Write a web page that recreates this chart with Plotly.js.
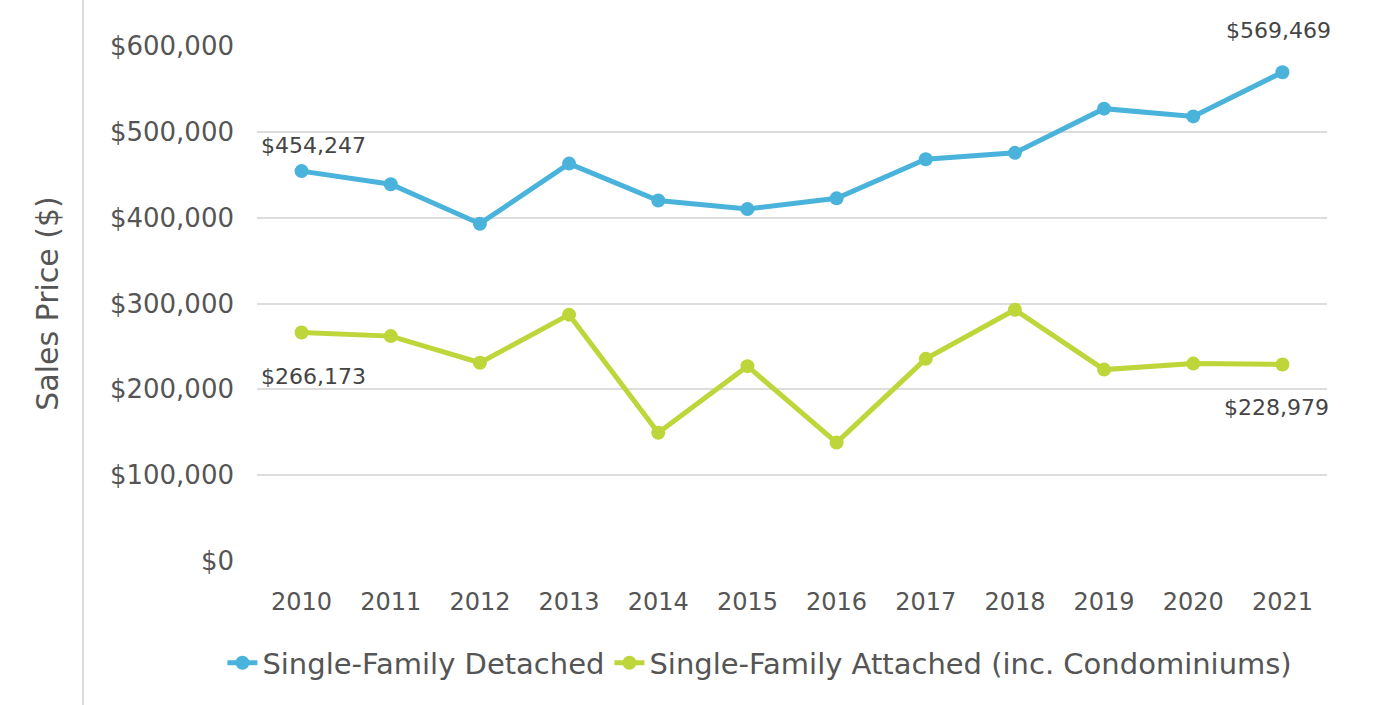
<!DOCTYPE html>
<html>
<head>
<meta charset="utf-8">
<script src="https://cdn.plot.ly/plotly-3.0.1.min.js"></script>
<style>html,body{margin:0;padding:0;background:#fff;}#chart{width:1389px;height:705px;}</style>
</head>
<body>
<div id="chart"></div>
<script>
const years = ['2010','2011','2012','2013','2014','2015','2016','2017','2018','2019','2020','2021'];
const detached = [454247, 439000, 393000, 463000, 420000, 410000, 422500, 468000, 475500, 527000, 518000, 569469];
const attached = [266173, 262000, 231000, 287000, 149500, 227000, 138000, 235500, 292700, 223000, 230000, 228979];
const seriesNames = ['Single-Family Detached', 'Single-Family Attached (inc. Condominiums)'];
const colors = ['#4AB3DC', '#BED63A'];

const fam = '"DejaVu Sans", sans-serif';
const grey = '#555555';

function fmt(v){
  const s = String(Math.round(v));
  return '$' + s.replace(/\B(?=(\d{3})+(?!\d))/g, ',');
}

const traces = [detached, attached].map((vals, i) => ({
  type: 'scatter', mode: 'lines+markers',
  x: years, y: vals, name: seriesNames[i],
  line: {color: colors[i], width: 5},
  marker: {color: colors[i], size: 14},
  cliponaxis: false
}));

const last = years.length - 1;
function ann(xi, yv, ys, xs){
  return {xref: 'x', yref: 'y', x: xi, y: yv, text: fmt(yv), showarrow: false,
    xshift: xs, yshift: ys, font: {family: fam, size: 22, color: '#444444'}};
}
const annotations = [
  ann(0, detached[0], 26, 12),
  ann(0, attached[0], -44, 12),
  ann(last, detached[last], 42, -4),
  ann(last, attached[last], -43, -6)
];

const layout = {
  width: 1389, height: 705,
  margin: {l: 257, r: 62, t: 46, b: 144},
  paper_bgcolor: '#ffffff', plot_bgcolor: '#ffffff',
  font: {family: fam, color: grey},
  showlegend: true,
  legend: {orientation: 'h', x: 0.47, xanchor: 'center', y: -0.198, yanchor: 'middle',
    font: {family: fam, size: 29, color: grey}},
  xaxis: {type: 'category', showgrid: false, zeroline: false, showline: false,
    tickfont: {family: fam, size: 24, color: grey}, ticks: '',
    ticklabelstandoff: 24, range: [-0.5, 11.5]},
  yaxis: {range: [0, 600000], tickvals: [0,100000,200000,300000,400000,500000,600000],
    tickformat: '$,.0f', tickfont: {family: fam, size: 26, color: grey},
    gridcolor: '#dddddd', gridwidth: 2, zeroline: false, showline: false,
    ticklabelstandoff: 22,
    title: {text: 'Sales Price ($)', font: {family: fam, size: 30, color: grey}, standoff: 42}},
  annotations: annotations,
  shapes: [{type: 'line', xref: 'paper', yref: 'paper',
    x0: (83-257)/1070, x1: (83-257)/1070, y0: -144/515, y1: 1 + 46/515,
    line: {color: '#d0d0d0', width: 1.5}}]
};

Plotly.newPlot('chart', traces, layout, {displayModeBar: false, staticPlot: true});
</script>
</body>
</html>
